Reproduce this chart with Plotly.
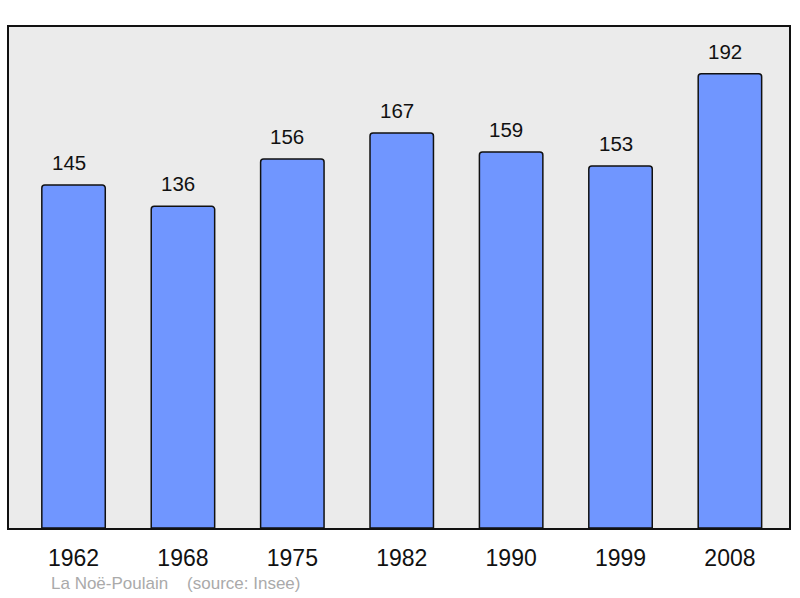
import plotly.graph_objects as go

years = ['1962', '1968', '1975', '1982', '1990', '1999', '2008']
population = [145, 136, 156, 167, 159, 153, 192]
caption = 'La Noë-Poulain    (source: Insee)'

xpos = list(range(len(years)))

fig = go.Figure()
fig.add_trace(go.Bar(
    x=xpos,
    y=population,
    width=0.58,
    marker=dict(color='#7096ff', line=dict(color='#111111', width=1.5), cornerradius=3),
    hoverinfo='none',
))

# value labels above each bar
for x, v in zip(xpos, population):
    fig.add_annotation(x=x, y=v, text=str(v), showarrow=False,
                       yanchor='bottom', yshift=9, xshift=-5,
                       font=dict(family='Liberation Sans', size=20.5, color='#111111'))

# caption, pixel position converted to paper coords
fig.add_annotation(x=(49 - 9) / 782, y=-(583 - 528) / 501, xref='paper', yref='paper',
                   text=caption, showarrow=False, xanchor='left', yanchor='middle',
                   font=dict(family='Liberation Sans', size=17, color='#aaaaaa'))

fig.update_layout(
    width=800, height=598,
    margin=dict(l=9, r=9, t=27, b=70),
    paper_bgcolor='white',
    plot_bgcolor='#ebebeb',
    showlegend=False,
    font=dict(family='Liberation Sans', color='#111111'),
)

fig.update_xaxes(range=[-0.59, 6.54], tickvals=xpos, ticktext=years,
                 tickfont=dict(size=23, color='#111111'),
                 ticks='outside', ticklen=8, tickcolor='rgba(0,0,0,0)',
                 showgrid=False, zeroline=False,
                 showline=True, linecolor='#111111', linewidth=2, mirror=True)
fig.update_yaxes(range=[0, 211.8], showticklabels=False, showgrid=False, zeroline=False,
                 showline=True, linecolor='#111111', linewidth=2, mirror=True)

fig.write_html('out.html', config={'displayModeBar': False},
               post_script="document.body.style.margin='0';")
